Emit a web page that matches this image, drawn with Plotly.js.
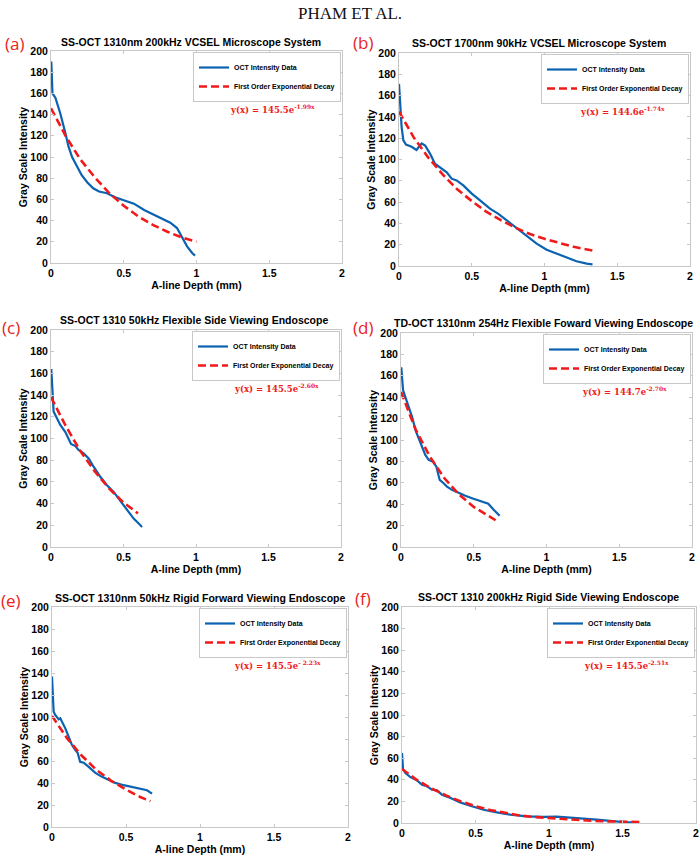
<!DOCTYPE html>
<html>
<head>
<meta charset="utf-8">
<script src="https://cdn.plot.ly/plotly-3.0.1.min.js"></script>
<style>html,body{margin:0;padding:0;background:#fff;}#chart{width:700px;height:856px;}</style>
</head>
<body>
<div id="chart"></div>
<script>
// ---------- data ----------
const titles = [
  "SS-OCT 1310nm 200kHz VCSEL Microscope System",
  "SS-OCT 1700nm 90kHz VCSEL Microscope System",
  "SS-OCT 1310 50kHz Flexible Side Viewing Endoscope",
  "TD-OCT 1310nm 254Hz Flexible Foward Viewing Endoscope",
  "SS-OCT 1310nm 50kHz Rigid Forward Viewing Endoscope",
  "SS-OCT 1310 200kHz Rigid Side Viewing Endoscope"
];
const panelLabels = ["(a)", "(b)", "(c)", "(d)", "(e)", "(f)"];
const fitA = ["145.5", "144.6", "145.5", "144.7", "145.5", "145.5"];
const fitB = ["-1.99x", "-1.74x", "-2.60x", "-2.70x", "- 2.23x", "-2.51x"];
const xTickVals = [0, 0.5, 1, 1.5, 2];
const xTickText = ["0", "0.5", "1", "1.5", "2"];
const yTickVals = [0, 20, 40, 60, 80, 100, 120, 140, 160, 180, 200];

// (a)
const aDepth = [0.002,0.01,0.03,0.064,0.1,0.12,0.145,0.18,0.21,0.25,0.29,0.33,0.385,0.44,0.5,0.57,0.64,0.705,0.775,0.82,0.866,0.9,0.935,0.97,0.99];
const aOct   = [190,160,156,141,122,110,100,91,83,76,70.5,67.4,65.8,62,59,56,50,45.5,40.8,38,33,25,15.7,9.4,7];
const aFitX  = [0,0.1,0.2,0.3,0.4,0.5,0.6,0.7,0.8,0.9,1.0];
const aFitY  = [146,120,98,81,66,54,44,36,29.5,24,20];
// (b)
const bDepth = [0,0.007,0.018,0.03,0.048,0.087,0.11,0.12,0.137,0.156,0.18,0.213,0.247,0.293,0.328,0.362,0.396,0.442,0.5,0.557,0.625,0.683,0.74,0.81,0.877,0.946,1.015,1.084,1.152,1.22,1.29,1.33];
const bOct   = [171,155.6,130.5,118,114,112,110,109,112,115,113,105.5,96,91.4,88,82,80.4,75.7,68,61.7,53.8,49,43,35,28.8,21,15.3,11.6,7.8,4.4,2.2,1.6];
const bFitX  = [0,0.1,0.2,0.3,0.4,0.5,0.6,0.7,0.8,0.9,1.0,1.1,1.2,1.33];
const bFitY  = [145,121,102,86,72,61,51,43,36,30,25.5,21.5,18,14.5];
// (c)
const cDepth = [0.002,0.009,0.018,0.041,0.064,0.099,0.122,0.138,0.168,0.19,0.225,0.26,0.294,0.34,0.386,0.432,0.478,0.524,0.57,0.605,0.628];
const cOct   = [164,145,124.8,118.6,112.5,106,98.6,95,93,89.4,86.3,81.7,74,64.7,57,50.8,42.5,33.9,26.2,21.6,18.5];
const cFitX  = [0,0.1,0.2,0.3,0.4,0.5,0.6];
const cFitY  = [138,112,89,70,54,41,31];
// (d)
const dDepth = [0.002,0.014,0.03,0.053,0.076,0.1,0.12,0.144,0.167,0.19,0.22,0.243,0.252,0.266,0.293,0.316,0.35,0.396,0.442,0.488,0.522,0.568,0.6,0.637,0.678];
const dOct   = [168,146.6,140,131,121.7,109,101.6,93.8,86,81.4,79.8,75,69,62.7,59.6,56.5,53.4,50.3,47.8,45.6,44,42.5,40.4,34.8,29.2];
const dFitX  = [0,0.1,0.2,0.3,0.4,0.5,0.65];
const dFitY  = [145,110,84,64,49,37.5,25];
// (e)
const eDepth = [0,0.007,0.011,0.022,0.045,0.056,0.074,0.09,0.113,0.135,0.158,0.173,0.19,0.214,0.248,0.293,0.338,0.383,0.428,0.484,0.54,0.597,0.642,0.676];
const eOct   = [136.8,121.6,104.9,101.8,97.9,98.8,94.2,89.7,82,74.5,70,67.5,59.3,58.4,54.7,49.2,45.6,42.6,40.1,38,36.5,35,33.4,30.4];
const eFitX  = [0,0.1,0.2,0.3,0.4,0.5,0.6,0.665];
const eFitY  = [101,81,65,52,42,34,27,23.5];
// (f)
const fDepth = [0,0.007,0.023,0.057,0.102,0.136,0.17,0.204,0.238,0.272,0.33,0.396,0.464,0.555,0.645,0.736,0.85,0.963,1.053,1.144,1.234,1.325,1.416,1.506,1.6];
const fOct   = [64.8,50,46.3,42.6,39.5,35.5,34,30.9,30.2,26.2,23.1,19.1,16,12.3,9.9,7.7,6.2,5.6,5.9,4.9,4.6,3.1,1.9,0.9,0.6];
const fFitX  = [0,0.1,0.2,0.3,0.4,0.5,0.6,0.7,0.8,0.9,1.0,1.1,1.2,1.3,1.4,1.5,1.615];
const fFitY  = [50,40,32,25.5,20,15.5,12,9.5,7,5.5,4.5,3.5,2.7,2.0,1.5,1.2,0.9];

const octX = [aDepth,bDepth,cDepth,dDepth,eDepth,fDepth];
const octY = [aOct,bOct,cOct,dOct,eOct,fOct];
const fitX = [aFitX,bFitX,cFitX,dFitX,eFitX,fFitX];
const fitY = [aFitY,bFitY,cFitY,dFitY,eFitY,fFitY];

// ---------- layout geometry (pixels) ----------
const W = 700, H = 856;
const boxes = [ // [left, right, top, bottom]
  [51, 342, 51, 263],
  [399, 690, 53, 266],
  [51, 341, 330, 547],
  [401, 692, 333, 547],
  [52, 348, 607, 827],
  [402, 696, 607, 823]
];
const titleY = [41.5, 43, 320, 323, 598, 597];
const titleX = [191, 539, 194, 543, 200, 548];
const labelPos = [[14,44],[363,42],[11,327],[363,328],[11,600],[363,598]];
const eqX = [228, 578, 232, 580, 232, 582];

const px = v => v / W;
const py = v => 1 - v / H;

const SANS = "Liberation Sans, Arial, Helvetica, sans-serif";
const BLUE = "#0a62b0";
const RED = "#f01a1a";
const GRID = "#c8c8c8";

const traces = [];
const layout = {
  width: W, height: H,
  margin: {l: 0, r: 0, t: 0, b: 0},
  paper_bgcolor: "#fff", plot_bgcolor: "#fff",
  showlegend: true,
  annotations: [],
  font: {family: SANS, color: "#000"}
};

layout.annotations.push({
  xref: "paper", yref: "paper", x: 0.5, y: py(13), xanchor: "center", yanchor: "middle",
  text: "PHAM ET AL.", showarrow: false,
  font: {family: "Liberation Serif, Times New Roman, serif", size: 17, color: "#111"}
});

for (let i = 0; i < 6; i++) {
  const n = i === 0 ? "" : String(i + 1);
  const xa = "x" + n, ya = "y" + n;
  const lg = "legend" + n;
  const [l, r, t, b] = boxes[i];
  traces.push({
    x: octX[i], y: octY[i], type: "scatter", mode: "lines",
    name: "OCT Intensity Data", xaxis: xa, yaxis: ya, legend: lg,
    line: {color: BLUE, width: 2.2}
  });
  traces.push({
    x: fitX[i], y: fitY[i], type: "scatter", mode: "lines",
    name: "First Order Exponential Decay", xaxis: xa, yaxis: ya, legend: lg,
    line: {color: RED, width: 2.6, dash: "8px,4px"}
  });
  const axCommon = {
    showline: true, mirror: "ticks", linecolor: GRID, linewidth: 1,
    ticks: "inside", ticklen: 3, tickcolor: GRID, showgrid: false, zeroline: false,
    tickfont: {family: SANS, size: 10.5, weight: "bold", color: "#000"},
    fixedrange: true
  };
  layout["xaxis" + n] = Object.assign({}, axCommon, {
    domain: [px(l), px(r)], anchor: ya, range: [0, 2],
    tickvals: xTickVals, ticktext: xTickText, ticklabelstandoff: 0,
    title: {text: "A-line Depth (mm)", standoff: 2, font: {family: SANS, size: 10.5, weight: "bold", color: "#000"}}
  });
  layout["yaxis" + n] = Object.assign({}, axCommon, {
    domain: [py(b), py(t)], anchor: xa, range: [0, 200],
    tickvals: yTickVals, ticklabelstandoff: 0,
    title: {text: "Gray Scale Intensity", standoff: 0, font: {family: SANS, size: 10.5, weight: "bold", color: "#000"}}
  });
  layout[lg] = {
    xref: "paper", yref: "paper", x: px(r - 1), y: py(t + 1), xanchor: "right", yanchor: "top",
    bgcolor: "#fff", bordercolor: GRID, borderwidth: 1,
    font: {family: SANS, size: 7, weight: "bold", color: "#000"},
    tracegroupgap: 0, itemwidth: 30
  };
  layout.annotations.push({
    xref: "paper", yref: "paper", x: px(titleX[i]), y: py(titleY[i]), xanchor: "center", yanchor: "middle",
    text: titles[i], showarrow: false,
    font: {family: SANS, size: 10.5, weight: "bold", color: "#000"}
  });
  layout.annotations.push({
    xref: "paper", yref: "paper", x: px(labelPos[i][0]), y: py(labelPos[i][1]), xanchor: "center", yanchor: "middle",
    text: panelLabels[i], showarrow: false,
    font: {family: "Open Sans, Noto Sans, sans-serif", size: 17, color: "#e8231e"}
  });
  layout.annotations.push({
    xref: "paper", yref: "paper", x: px(eqX[i]), y: py(t + 58), xanchor: "left", yanchor: "middle",
    text: "y(x) = " + fitA[i] + "e<sup>" + fitB[i] + "</sup>", showarrow: false,
    font: {family: "DejaVu Serif, Liberation Serif, serif", size: 8.5, weight: "bold", color: RED}
  });
}

Plotly.newPlot("chart", traces, layout, {displayModeBar: false, staticPlot: true});
</script>
</body>
</html>
